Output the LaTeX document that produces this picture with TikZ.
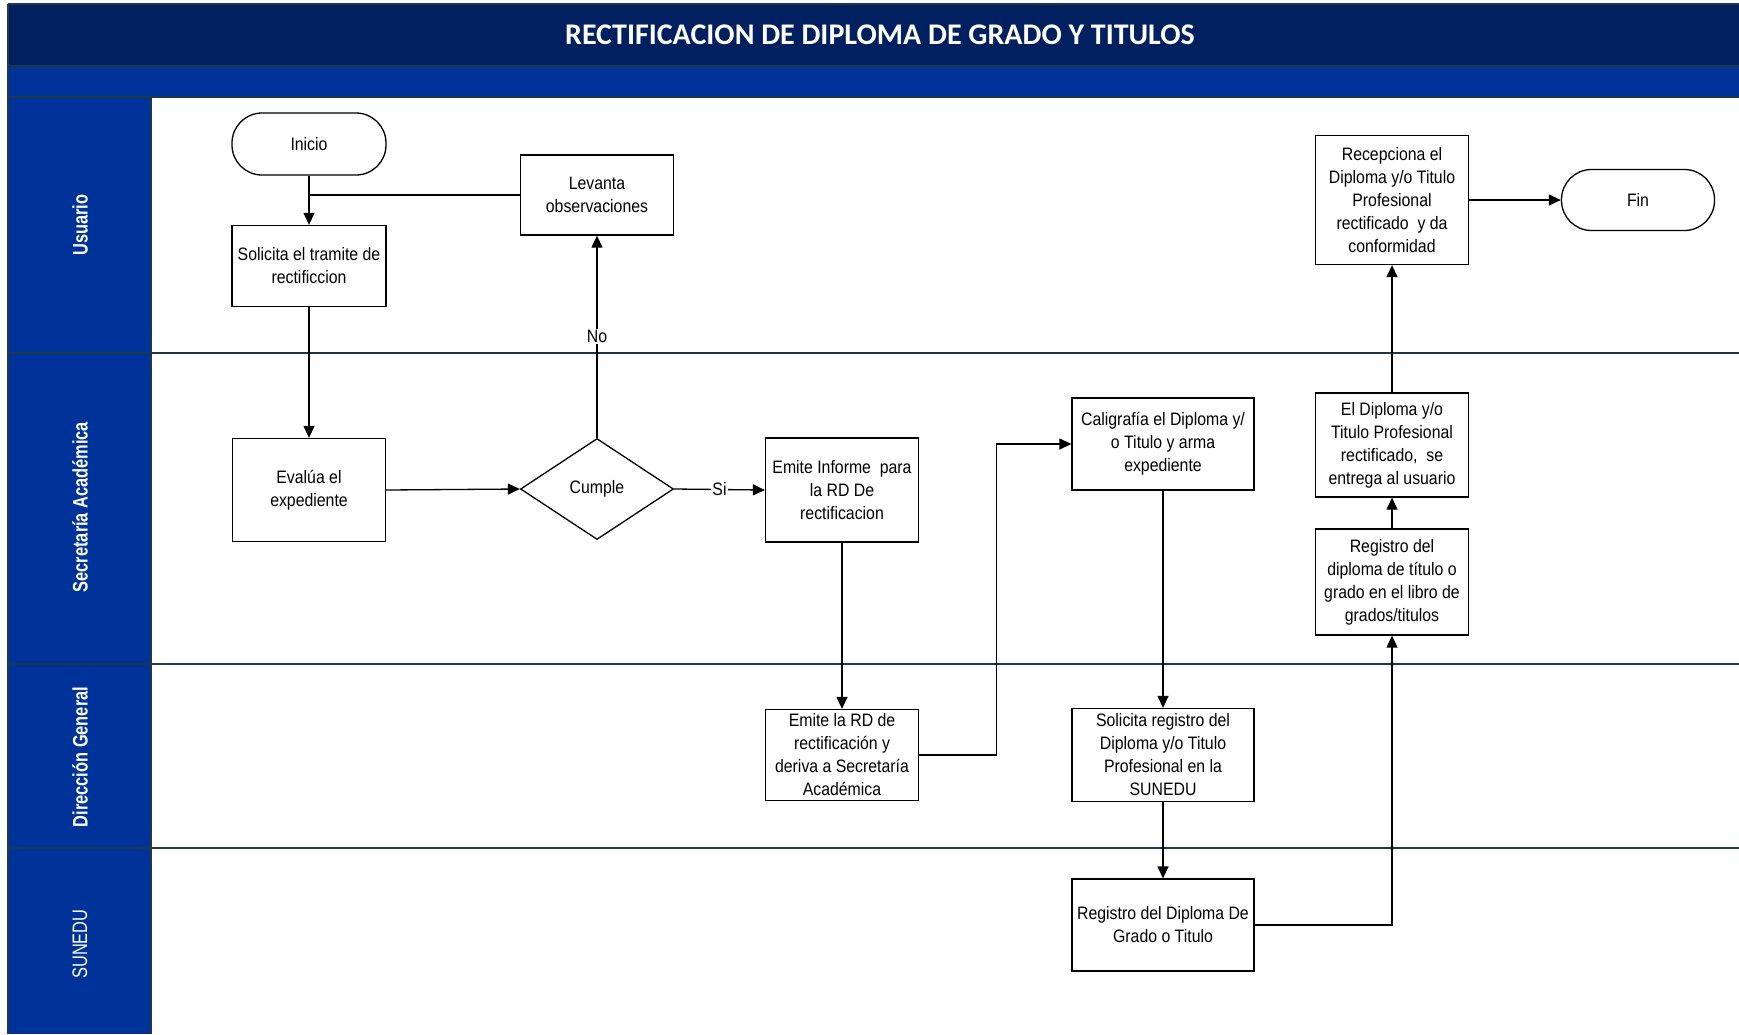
\documentclass[tikz,border=0pt]{standalone}
\usepackage{fontspec}
\setmainfont{Liberation Sans}
\newfontfamily\boxfont[FakeStretch=0.88]{Liberation Sans}
\newfontfamily\lanefont[FakeStretch=0.78]{Liberation Sans}
\newfontfamily\titlefont{Carlito}
\usetikzlibrary{shapes.geometric,arrows.meta}
\definecolor{navy}{RGB}{0,32,96}
\definecolor{laneblue}{RGB}{0,51,153}
\definecolor{sepline}{RGB}{32,56,70}
\tikzset{
  stepbox/.style={draw=black, line width=1.3pt, fill=white, align=center, inner sep=2pt,
    font=\boxfont\fontsize{18}{23}\selectfont},
  termbox/.style={stepbox, rounded corners=30pt},
  decbox/.style={draw=black, line width=1.3pt, fill=white, diamond, aspect=1.5, inner sep=1pt,
    font=\boxfont\fontsize{18}{23}\selectfont},
  conn/.style={line width=1.3pt, draw=black},
  arr/.style={conn, -{Triangle[length=12pt,width=11pt]}},
  lbl/.style={fill=white, inner sep=1pt, font=\boxfont\fontsize{18}{23}\selectfont},
  lanelbl/.style={rotate=90, text=white, font=\lanefont\fontsize{21}{24}\selectfont},
  laneline/.style={draw=sepline, line width=1.6pt}
}
\begin{document}
\begin{tikzpicture}[x=1pt,y=-1pt]
\useasboundingbox (0,0) rectangle (1739,1034);
\fill[white] (0,0) rectangle (1739,1034);
% bands
\fill[navy] (8,4) rectangle (1739,66);
\fill[laneblue] (8,66) rectangle (1739,97);
\fill[laneblue] (8,97) rectangle (151,1034);
\draw[laneline] (8,4) -- (1739,4);
\draw[laneline] (8,4) -- (8,1034);
\draw[laneline] (8,66) -- (1739,66);
\draw[laneline] (8,97) -- (1739,97);
\draw[laneline] (151,97) -- (151,1034);
\draw[laneline] (8,353) -- (1739,353);
\draw[laneline] (8,664) -- (1739,664);
\draw[laneline] (8,848) -- (1739,848);
% title
\node[text=white, font=\titlefont\bfseries\fontsize{30}{33}\selectfont] (title) at (880,35) {RECTIFICACION DE DIPLOMA DE GRADO Y TITULOS};
% lane labels
\node[lanelbl, font=\lanefont\bfseries\fontsize{21}{24}\selectfont] (l1) at (80,225) {Usuario};
\node[lanelbl, font=\lanefont\bfseries\fontsize{21}{24}\selectfont] (l2) at (80,507) {Secretaría Académica};
\node[lanelbl, font=\lanefont\bfseries\fontsize{21}{24}\selectfont] (l3) at (80,757) {Dirección General};
\node[lanelbl] (l4) at (80,944) {SUNEDU};
% nodes
\node[termbox, minimum width=154pt, minimum height=62pt] (inicio) at (309,144) {Inicio};
\node[stepbox, minimum width=154pt, minimum height=81pt] (solicita) at (309,266) {Solicita el tramite de\\rectificcion};
\node[stepbox, minimum width=153pt, minimum height=80pt] (levanta) at (597,195) {Levanta\\observaciones};
\node[stepbox, minimum width=153pt, minimum height=103pt] (evalua) at (309,490) {Evalúa el\\expediente};
\node[decbox, minimum width=153pt, minimum height=101pt] (cumple) at (597,489) {Cumple};
\node[stepbox, minimum width=153pt, minimum height=104pt] (informe) at (842,490) {Emite Informe~ para\\la RD De\\rectificacion};
\node[stepbox, minimum width=153pt, minimum height=91pt] (emiterd) at (842,755) {Emite la RD de\\rectificación y\\deriva a Secretaría\\Académica};
\node[stepbox, minimum width=182pt, minimum height=92pt] (caligrafia) at (1163,444) {Caligrafía el Diploma y/\\o Titulo y arma\\expediente};
\node[stepbox, minimum width=182pt, minimum height=93pt] (solreg) at (1163,755) {Solicita registro del\\Diploma y/o Titulo\\Profesional en la\\SUNEDU};
\node[stepbox, minimum width=182pt, minimum height=92pt] (regsun) at (1163,925) {Registro del Diploma De\\Grado o Titulo};
\node[stepbox, minimum width=153pt, minimum height=106pt] (reglib) at (1392,582) {Registro del\\diploma de título o\\grado en el libro de\\grados/titulos};
\node[stepbox, minimum width=153pt, minimum height=104pt] (entrega) at (1392,445) {El Diploma y/o\\Titulo Profesional\\rectificado,~ se\\entrega al usuario};
\node[stepbox, minimum width=153pt, minimum height=129pt] (recep) at (1392,200) {Recepciona el\\Diploma y/o Titulo\\Profesional\\rectificado~ y da\\conformidad};
\node[termbox, minimum width=153pt, minimum height=61pt] (fin) at (1638,200) {Fin};
% connectors
\draw[arr] (inicio) -- (solicita);
\draw[conn] (levanta.west) -- (levanta.west -| inicio.south);
\draw[arr] (solicita) -- (evalua);
\draw[arr] (evalua.east) -- (cumple.west);
\draw[arr] (cumple.north) -- node[lbl, pos=0.5] (no) {No} (levanta.south);
\draw[arr] (cumple.east) -- node[lbl, pos=0.5] (si) {Si} (informe.west);
\draw[arr] (informe) -- (emiterd);
\draw[arr] (emiterd.east) -- ++(77,0) |- (caligrafia.west);
\draw[arr] (caligrafia) -- (solreg);
\draw[arr] (solreg) -- (regsun);
\draw[arr] (regsun.east) -| (reglib.south);
\draw[arr] (reglib) -- (entrega);
\draw[arr] (entrega) -- (recep);
\draw[arr] (recep) -- (fin);
\end{tikzpicture}
\end{document}
